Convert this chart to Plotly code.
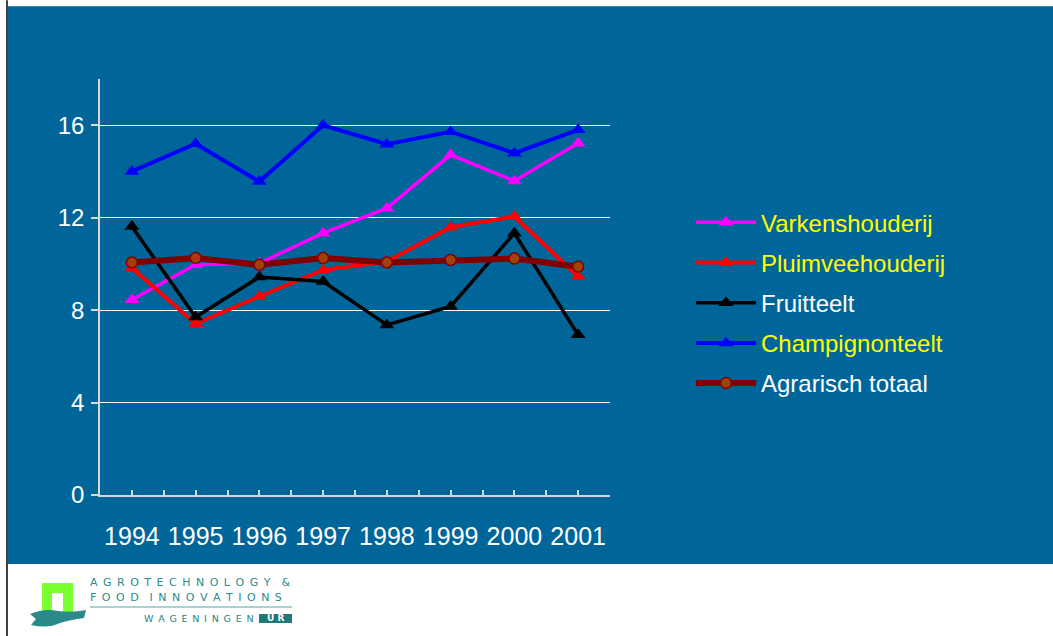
import plotly.graph_objects as go

years = ["1994", "1995", "1996", "1997", "1998", "1999", "2000", "2001"]
varkenshouderij = [8.45, 9.96, 10.03, 11.33, 12.41, 14.72, 13.59, 15.22]
pluimveehouderij = [9.82, 7.41, 8.59, 9.74, 10.10, 11.59, 12.05, 9.45]
fruitteelt = [11.62, 7.70, 9.43, 9.24, 7.36, 8.16, 11.33, 6.93]
champignonteelt = [14.0, 15.2, 13.56, 16.0, 15.18, 15.72, 14.79, 15.8]
agrarisch_totaal = [10.06, 10.25, 9.96, 10.25, 10.06, 10.17, 10.23, 9.88]
y_ticks = [0, 4, 8, 12, 16]

W, H = 1053, 636
L, R, T, B = 100, 610, 78.75, 495
BG = "#006699"


def X(px):
    return (px - L) / (R - L)


def Y(py):
    return (B - py) / (B - T)


xs = list(range(len(years)))
fig = go.Figure()

series = [
    ("Varkenshouderij", varkenshouderij, "#FF00FF", "#FFFF00", 3.5),
    ("Pluimveehouderij", pluimveehouderij, "#FF0000", "#FFFF00", 4),
    ("Fruitteelt", fruitteelt, "#000000", "#FFFFFF", 3.5),
    ("Champignonteelt", champignonteelt, "#0000FF", "#FFFF00", 4),
]
for i, (name, vals, col, tcol, lw) in enumerate(series):
    fig.add_trace(go.Scatter(
        x=xs, y=vals, mode="lines+markers",
        name=f"<span style='color:{tcol}'>{name}</span>",
        legendgroup=str(i),
        line=dict(color=col, width=lw),
        marker=dict(symbol="triangle-up", size=13, color=col),
    ))

fig.add_trace(go.Scatter(
    x=xs, y=agrarisch_totaal, mode="lines+markers",
    name="<span style='color:#FFFFFF'>Agrarisch totaal</span>",
    legendgroup="4",
    line=dict(color="#800000", width=6),
    marker=dict(symbol="circle", size=11, color="#A0400A",
                line=dict(color="#800000", width=1.5)),
))

tickvals = []
ticktext = []
for i, yr in enumerate(years):
    tickvals += [i - 0.5, i]
    ticktext += ["", yr]
tickvals.append(len(years) - 0.5)
ticktext.append("")

shapes = [
    dict(type="rect", xref="paper", yref="paper", x0=X(8), x1=X(1053),
         y0=Y(564), y1=Y(6), fillcolor=BG, line=dict(width=0), layer="below"),
    dict(type="line", xref="paper", yref="paper", x0=X(7), x1=X(7),
         y0=Y(636), y1=Y(0), line=dict(color="#000000", width=1.5)),
    # logo
    dict(type="path", xref="paper", yref="paper",
         path="M{0},{1} L{0},{2} L{3},{2} L{3},{1} L{4},{1} L{4},{5} L{6},{5} L{6},{1} Z".format(
             X(42), Y(613), Y(583), X(73), X(63), Y(593), X(52)),
         fillcolor="#7CFF2E", line=dict(width=0)),
    dict(type="path", xref="paper", yref="paper",
         path="M{},{} Q{},{} {},{} Q{},{} {},{} L{},{} Q{},{} {},{} Q{},{} {},{} L{},{} Z".format(
             X(30), Y(614), X(45), Y(608), X(58), Y(611), X(72), Y(613), X(86), Y(610),
             X(84), Y(618), X(70), Y(620), X(60), Y(623), X(48), Y(629), X(31), Y(625),
             X(36), Y(619)),
         fillcolor="#2A8A8A", line=dict(width=0)),
    dict(type="line", xref="paper", yref="paper", x0=X(90), x1=X(292),
         y0=Y(607), y1=Y(607), line=dict(color="#8CC4C4", width=1.5)),
    dict(type="rect", xref="paper", yref="paper", x0=X(259), x1=X(292),
         y0=Y(623), y1=Y(614), fillcolor="#1E7A7A", line=dict(width=0)),
]

sp = "\u2002"
annotations = [
    dict(text=sp.join("AGROTECHNOLOGY") + sp + sp + "&", xref="paper", yref="paper",
         x=X(88), y=Y(583), xanchor="left", yanchor="middle", showarrow=False,
         font=dict(family="DejaVu Sans", size=11, color="#2A8C8C")),
    dict(text=sp.join("FOOD") + sp + sp + sp.join("INNOVATIONS"), xref="paper", yref="paper",
         x=X(88), y=Y(598), xanchor="left", yanchor="middle", showarrow=False,
         font=dict(family="DejaVu Sans", size=11, color="#2A8C8C")),
    dict(text=sp.join("WAGENINGEN"), xref="paper", yref="paper",
         x=X(256), y=Y(618.5), xanchor="right", yanchor="middle", showarrow=False,
         font=dict(family="DejaVu Sans", size=9.5, color="#2A7F7F")),
    dict(text="<b>U R</b>", xref="paper", yref="paper",
         x=X(275.5), y=Y(618.5), xanchor="center", yanchor="middle", showarrow=False,
         font=dict(family="DejaVu Sans", size=9, color="#FFFFFF")),
]

fig.update_layout(
    width=W, height=H,
    margin=dict(l=L, r=W - R, t=T, b=H - B, pad=0),
    paper_bgcolor="#FFFFFF",
    plot_bgcolor="rgba(0,0,0,0)",
    font=dict(family="Liberation Sans, Arial, sans-serif", color="#FFFFFF"),
    showlegend=True,
    legend=dict(
        x=X(691), y=Y(200), xanchor="left", yanchor="top",
        bgcolor="rgba(0,0,0,0)", borderwidth=0,
        font=dict(size=24, color="#FFFFFF"),
        itemwidth=60, tracegroupgap=6,
    ),
    shapes=shapes,
    annotations=annotations,
    xaxis=dict(
        range=[-0.5, len(years) - 0.5],
        tickmode="array", tickvals=tickvals, ticktext=ticktext,
        ticks="inside", ticklen=5, tickcolor="#D8D8D8", tickwidth=1.5,
        showline=True, linecolor="#D8D8D8", linewidth=1.5,
        showgrid=False, zeroline=False,
        tickfont=dict(family="Liberation Sans, Arial", size=25, color="#FFFFFF"),
        ticklabelstandoff=18,
        fixedrange=True,
    ),
    yaxis=dict(
        range=[0, 18],
        tickmode="array", tickvals=y_ticks,
        ticks="outside", ticklen=7, tickcolor="#D8D8D8", tickwidth=1.5,
        showline=True, linecolor="#D8D8D8", linewidth=1.5,
        showgrid=True, gridcolor="#FFFFFF", gridwidth=1,
        zeroline=False,
        tickfont=dict(size=24, color="#FFFFFF"),
        ticklabelstandoff=2,
        fixedrange=True,
    ),
)

fig.write_html("out.html", config={"displayModeBar": False},
               post_script="document.body.style.margin='0';")
